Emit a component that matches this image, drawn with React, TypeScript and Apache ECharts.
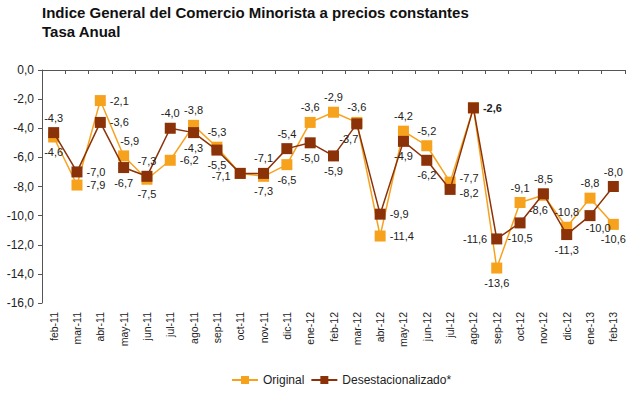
import React, { useEffect, useRef } from "react";
import * as echarts from "echarts";

const categories = ["feb-11","mar-11","abr-11","may-11","jun-11","jul-11","ago-11","sep-11","oct-11","nov-11","dic-11","ene-12","feb-12","mar-12","abr-12","may-12","jun-12","jul-12","ago-12","sep-12","oct-12","nov-12","dic-12","ene-13","feb-13"];
const original = [-4.6,-7.9,-2.1,-5.9,-7.5,-6.2,-3.8,-5.3,-7.1,-7.3,-6.5,-3.6,-2.9,-3.6,-11.4,-4.2,-5.2,-7.7,-2.6,-13.6,-9.1,-8.6,-10.8,-8.8,-10.6];
const desest = [-4.3,-7.0,-3.6,-6.7,-7.3,-4.0,-4.3,-5.5,-7.1,-7.1,-5.4,-5.0,-5.9,-3.7,-9.9,-4.9,-6.2,-8.2,-2.6,-11.6,-10.5,-8.5,-11.3,-10.0,-8.0];
const originalLabelPos = ["bottom","right","right","top","bottom","right","top","top","left","bottom","bottom","top","top","top","right","top","top","right","none","bottom","top","bottom","top","top","bottom"];
const desestLabelPos = ["top","right","right","bottom","top","top","bottom","bottom","none","top","top","bottom","bottom","bottom","right","bottom","bottom","right","right","left","bottom","top","bottom","bottom","top"];
const originalLabelShift: Record<number, number[]> = { 3: [6, 0], 8: [0, 3], 17: [0, -4], 21: [-5, 0], 22: [0, 0] };
const desestLabelShift: Record<number, number[]> = { 13: [-8, 0], 17: [0, 4], 23: [8, -3] };
const yTicks = { min: -16, max: 0, interval: 2 };

const FONT = "Liberation Sans, Arial, sans-serif";
const fmt = (v: number) => v.toFixed(1).replace(".", ",");

function buildData(values: number[], positions: string[], shifts: Record<number, number[]>, boldIdx: number) {
  return values.map((v, i) => {
    const pos = positions[i];
    if (pos === "none") return { value: v, label: { show: false } };
    return {
      value: v,
      label: {
        show: true,
        position: pos,
        distance: 4,
        offset: shifts[i] || [0, 0],
        fontWeight: i === boldIdx ? "bold" : "normal",
      },
    };
  });
}

export default function App() {
  const ref = useRef<HTMLDivElement>(null);
  useEffect(() => {
    if (!ref.current) return;
    const chart = echarts.init(ref.current, undefined, { renderer: "svg" });
    const labelStyle = {
      fontFamily: FONT,
      fontSize: 11,
      color: "#222",
      formatter: (p: any) => fmt(p.value),
    };
    chart.setOption({
      animation: false,
      backgroundColor: "#fff",
      textStyle: { fontFamily: FONT },
      title: {
        text: "Indice General del Comercio Minorista a precios constantes\nTasa Anual",
        left: 37,
        top: -2,
        textStyle: { fontSize: 15, fontWeight: "bold", color: "#111", lineHeight: 19, fontFamily: FONT },
      },
      grid: { left: 42, right: 15, top: 70, bottom: 95 },
      legend: {
        top: 369,
        left: 226,
        itemWidth: 26,
        itemHeight: 10,
        itemGap: 6,
        textStyle: { fontSize: 12, color: "#222", fontFamily: FONT },
        data: ["Original", "Desestacionalizado*"],
      },
      xAxis: [
        {
          type: "category",
          data: categories,
          position: "bottom",
          boundaryGap: true,
          axisLine: { show: false },
          axisTick: { show: false },
          axisLabel: { rotate: 90, fontSize: 10.5, color: "#222", margin: 9, interval: 0, fontFamily: FONT },
          splitLine: { show: false },
        },
        {
          type: "category",
          data: categories,
          position: "top",
          boundaryGap: true,
          axisLine: { show: true, lineStyle: { color: "#555", width: 1 } },
          axisTick: { show: true, inside: true, length: 4, interval: 0, lineStyle: { color: "#555" } },
          axisLabel: { show: false },
          splitLine: { show: false },
        },
      ],
      yAxis: {
        type: "value",
        min: yTicks.min,
        max: yTicks.max,
        interval: yTicks.interval,
        axisLine: { show: true, lineStyle: { color: "#555", width: 1 } },
        axisTick: { show: true, length: 4, lineStyle: { color: "#555" } },
        axisLabel: { fontSize: 12, color: "#222", margin: 8, fontFamily: FONT, formatter: (v: number) => fmt(v) },
        splitLine: { show: false },
      },
      series: [
        {
          name: "Original",
          type: "line",
          xAxisIndex: 0,
          data: buildData(original, originalLabelPos, originalLabelShift, -1),
          symbol: "rect",
          symbolSize: 11,
          color: "#F7A21D",
          lineStyle: { width: 1.5, color: "#F7A21D" },
          itemStyle: { color: "#F7A21D" },
          label: labelStyle,
          z: 2,
        },
        {
          name: "Desestacionalizado*",
          type: "line",
          xAxisIndex: 0,
          data: buildData(desest, desestLabelPos, desestLabelShift, 18),
          symbol: "rect",
          symbolSize: 11,
          color: "#8B3208",
          lineStyle: { width: 1.5, color: "#8B3208" },
          itemStyle: { color: "#8B3208" },
          label: labelStyle,
          z: 3,
        },
      ],
    });
    return () => chart.dispose();
  }, []);
  return <div ref={ref} style={{ position: "absolute", left: 0, top: 0, width: 640, height: 398 }} />;
}
